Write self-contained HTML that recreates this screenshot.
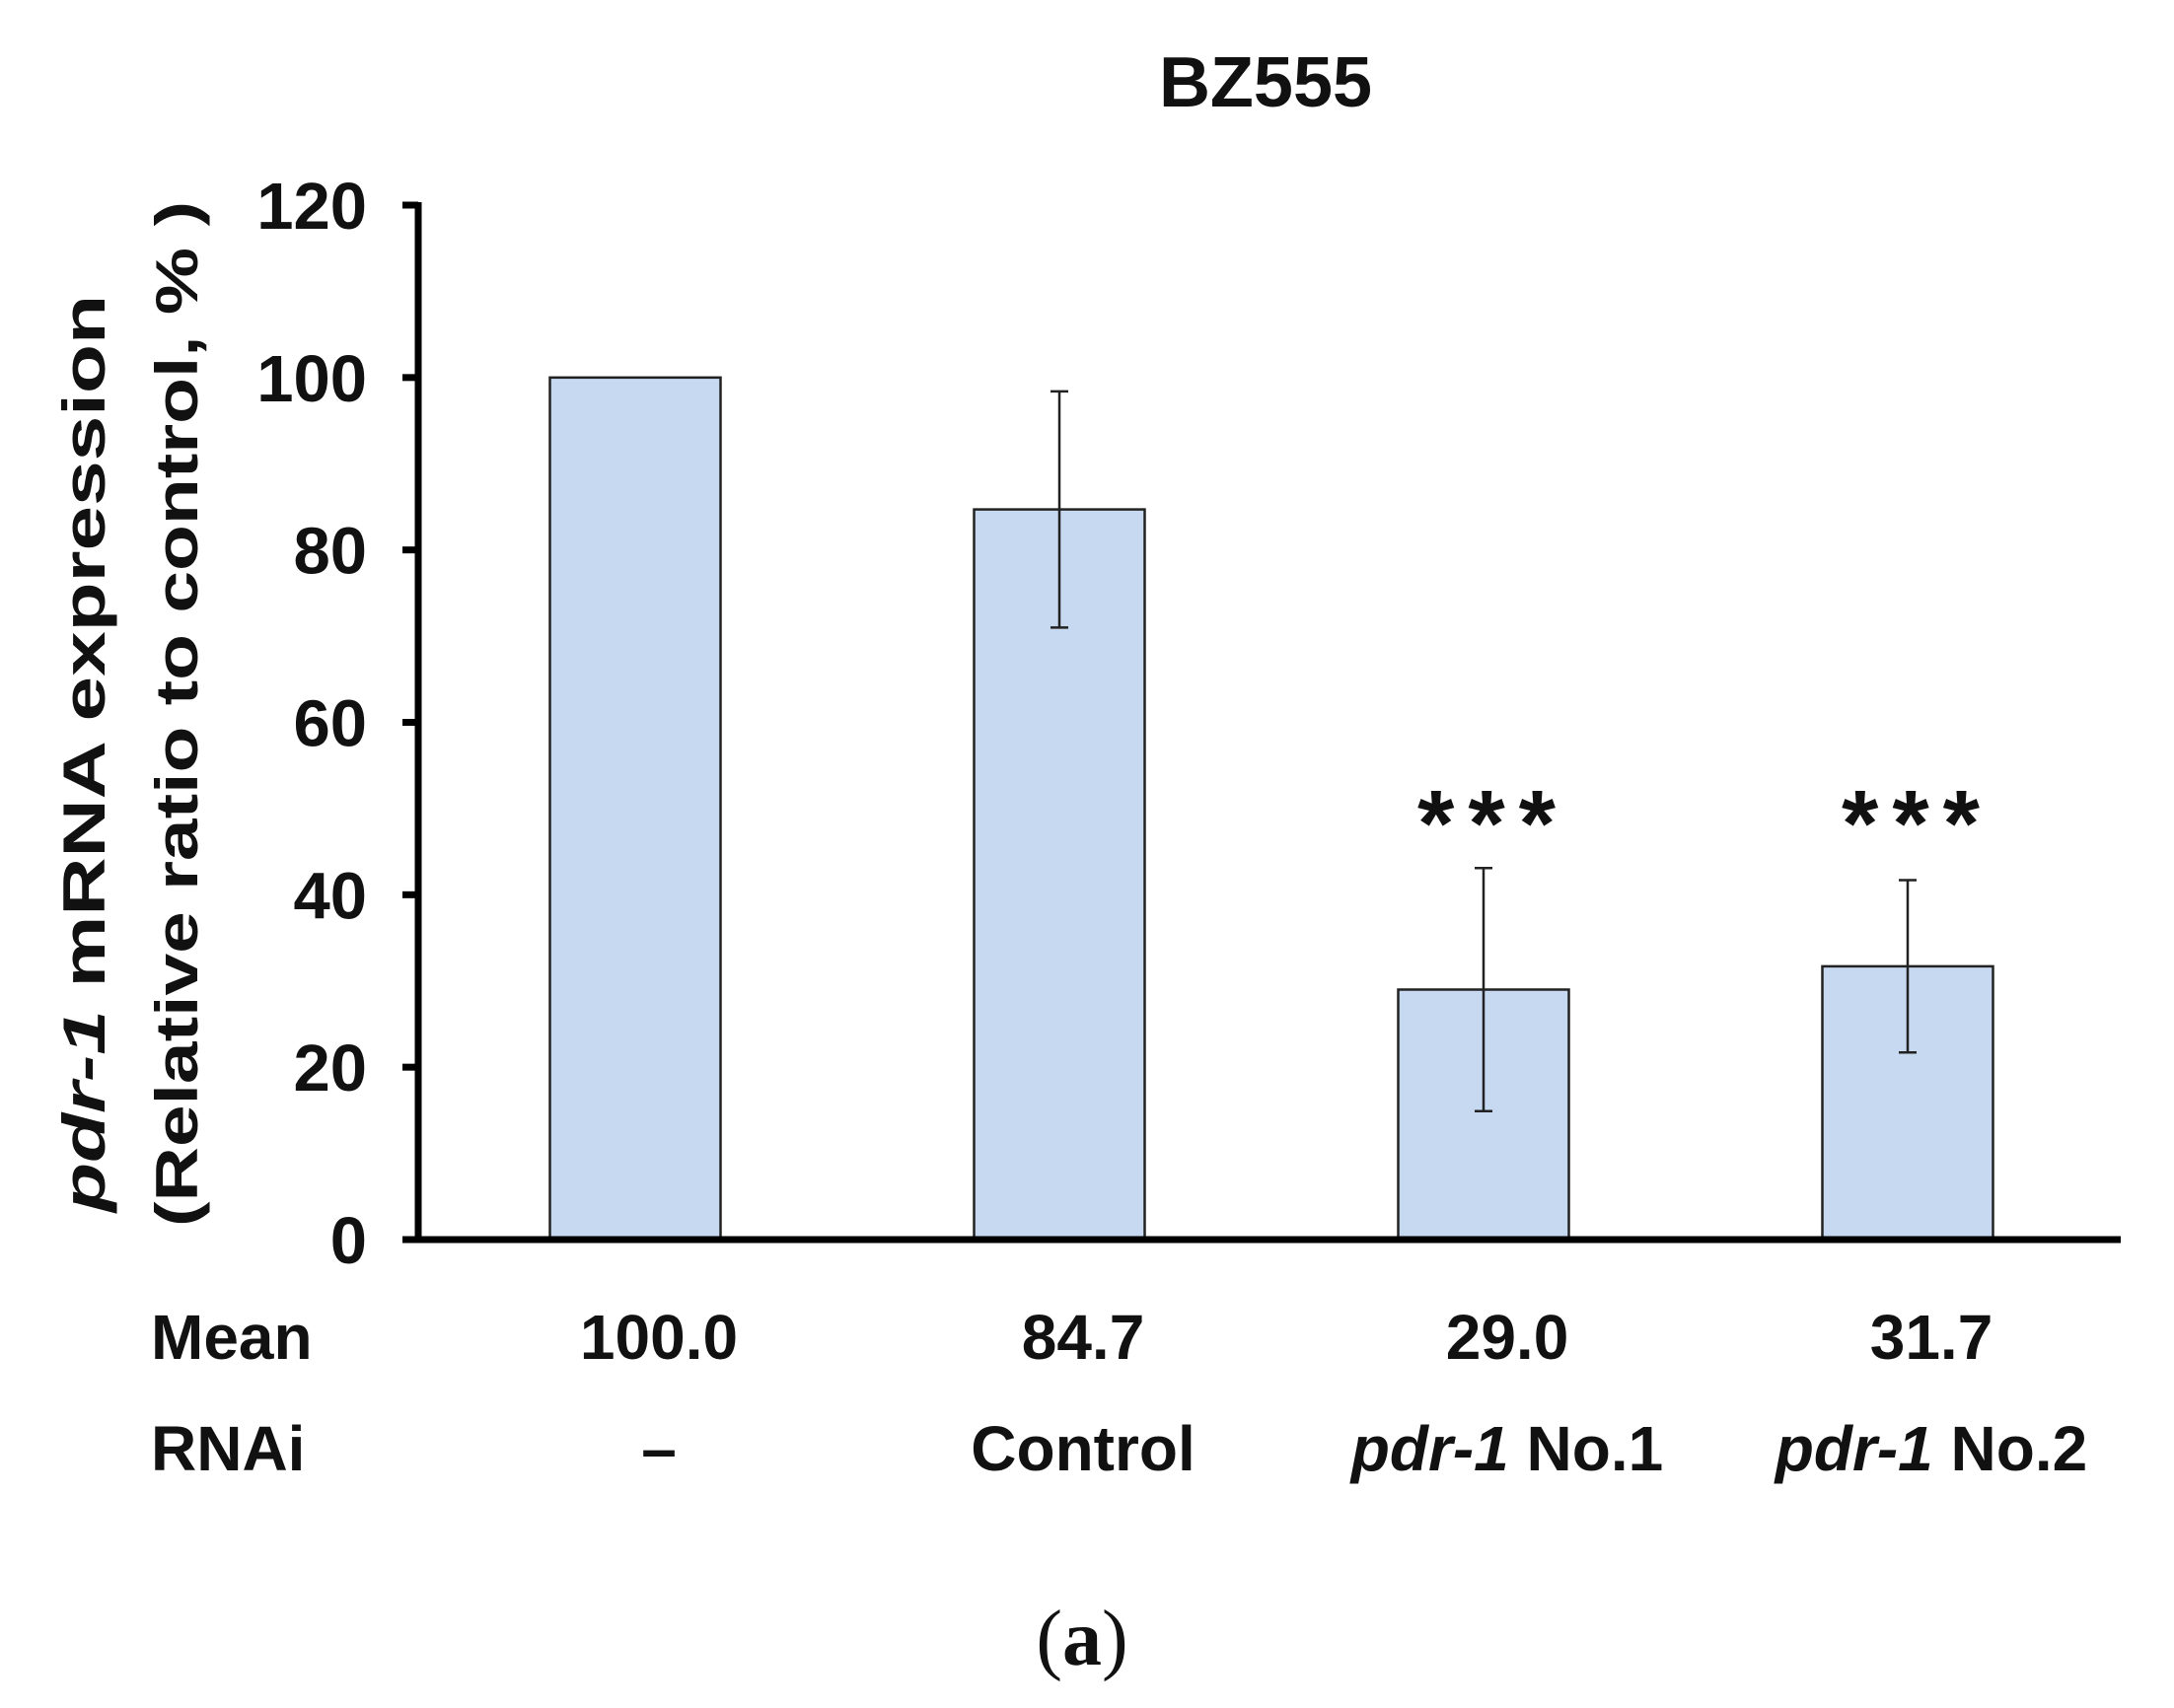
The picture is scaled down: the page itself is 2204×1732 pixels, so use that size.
<!DOCTYPE html>
<html><head><meta charset="utf-8"><style>
html,body{margin:0;padding:0;background:#fff}
svg{display:block}
text{font-family:"Liberation Sans",Arial,sans-serif;font-weight:bold;fill:#111}
</style></head><body>
<svg id="chart" width="2204" height="1732" viewBox="0 0 2204 1732" xmlns="http://www.w3.org/2000/svg">
<text x="1283" y="108" font-size="72" text-anchor="middle">BZ555</text>
<g>
<text transform="translate(106,764) rotate(-90)" font-size="60" text-anchor="middle" textLength="930" lengthAdjust="spacingAndGlyphs"><tspan font-style="italic">pdr-1</tspan> mRNA expression</text>
<text transform="translate(200,724) rotate(-90)" font-size="60" text-anchor="middle" textLength="1040" lengthAdjust="spacingAndGlyphs">(Relative ratio to control, % )</text>
</g>
<g id="plot"></g>
<text x="153" y="1378" font-size="64">Mean</text>
<text x="153" y="1491" font-size="64">RNAi</text>
<text x="1097" y="1688" font-size="80" text-anchor="middle" style="font-family:'Liberation Serif',serif;font-weight:normal">(<tspan font-weight="bold">a</tspan>)</text>
</svg>
<script>
const categories = ["–", "Control", "pdr-1 No.1", "pdr-1 No.2"];
const meanLabels = ["100.0", "84.7", "29.0", "31.7"];
const values = [100, 84.7, 29.0, 31.7];
const errors = [0, 13.7, 14.1, 10.0];
const significance = ["", "", "***", "***"];
const yTicks = [0, 20, 40, 60, 80, 100, 120];

const NS = "http://www.w3.org/2000/svg";
const g = document.getElementById("plot");
const x0 = 424, xEnd = 2150, yTop = 208, yBase = 1257, yMax = 120;
const firstCenter = 644, step = 430, barW = 173;
function yScale(v){ return yBase - (v / yMax) * (yBase - yTop); }
function xScale(i){ return firstCenter + i * step; }
function mk(tag, attrs){ const e = document.createElementNS(NS, tag); for (const k in attrs) e.setAttribute(k, attrs[k]); g.appendChild(e); return e; }

values.forEach((v, i) => {
  const cx = xScale(i);
  const bar = mk("rect", {x: cx - barW/2, y: yScale(v), width: barW, height: yBase - yScale(v), fill: "#c6d9f0", stroke: "#222", "stroke-width": 2.5});
  
  
  if (errors[i] > 0) {
    const hi = yScale(v + errors[i]), lo = yScale(v - errors[i]);
    const eb = mk("path", {d: `M${cx},${hi}V${lo}M${cx-9},${hi}H${cx+9}M${cx-9},${lo}H${cx+9}`, stroke: "#222", "stroke-width": 2.5, fill: "none"});
    
    
  }
  if (significance[i]) {
    const s = mk("text", {x: cx + 10, y: 868, "font-size": 96, "text-anchor": "middle", "letter-spacing": "14"});
    s.textContent = significance[i];
    
    
  }
  const m = mk("text", {x: cx + 24, y: 1378, "font-size": 64, "text-anchor": "middle"});
  m.textContent = meanLabels[i];
  
  
  const c = mk("text", {x: cx + 24, y: 1491, "font-size": 64, "text-anchor": "middle"});
  const lab = categories[i];
  if (lab.startsWith("pdr-1")) {
    const t1 = document.createElementNS(NS, "tspan"); t1.setAttribute("font-style", "italic"); t1.textContent = "pdr-1";
    c.appendChild(t1); c.appendChild(document.createTextNode(lab.slice(5)));
  } else if (lab === "–") {
    c.setAttribute("font-weight", "normal"); c.setAttribute("fill", "#444"); c.textContent = lab;
  } else c.textContent = lab;
  
  
});

const xa = mk("line", {x1: 413, y1: yBase, x2: xEnd, y2: yBase, stroke: "#000", "stroke-width": 7});


const ya = mk("line", {x1: x0, y1: yTop - 3, x2: x0, y2: yBase, stroke: "#000", "stroke-width": 7});


yTicks.forEach(t => {
  const y = yScale(t);
  const tk = mk("line", {x1: 408, y1: y, x2: x0, y2: y, stroke: "#000", "stroke-width": 7});
  
  
  const tl = mk("text", {x: 372, y: y + 24, "font-size": 67, "text-anchor": "end"});
  tl.textContent = String(t);
  
  
});
</script>
</body></html>
